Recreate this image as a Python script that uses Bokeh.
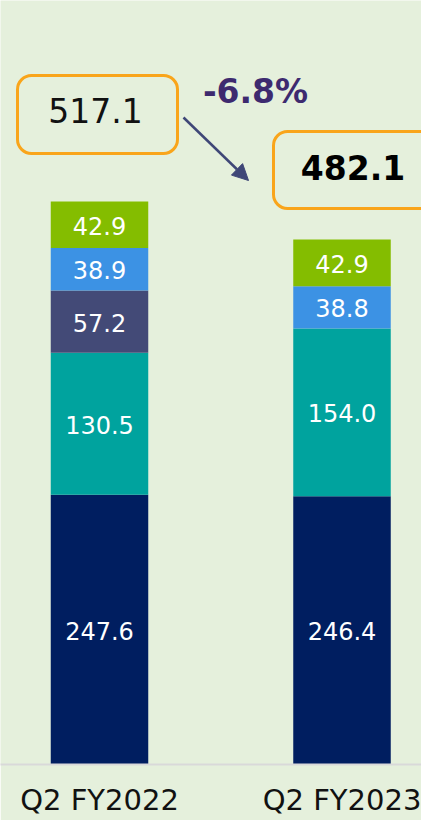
import numpy as np
from bokeh.plotting import figure
from bokeh.models import (Range1d, FixedTicker, ColumnDataSource, BoxAnnotation,
                          Arrow, NormalHead, Label)
from bokeh.core.properties import value
from bokeh.embed import file_html
from bokeh.resources import INLINE

# ---------------- data ----------------
categories = ["Q2 FY2022", "Q2 FY2023"]
seg_a = [247.6, 246.4]
seg_b = [130.5, 154.0]
seg_c = [57.2, 0.0]
seg_d = [38.9, 38.8]
seg_e = [42.9, 42.9]
series_names = ["seg_a", "seg_b", "seg_c", "seg_d", "seg_e"]
series_colors = ["#001e60", "#00a39e", "#434a77", "#3c92e4", "#84bd00"]

# ---------------- layout constants ----------------
BG = "#e5f0dc"
FONT = "DejaVu Sans"
W, H = 421, 820
BOTTOM_BORDER = 56
PX_PER_X = 242.5          # pixels per category step
X0_PX = 99.0              # pixel position of the first category centre
PX_PER_Y = 1.089          # pixels per value unit
BASE_PX = H - BOTTOM_BORDER

def sx(px):   # canvas pixel x -> data x
    return (px - X0_PX) / PX_PER_X

def sy(py):   # canvas pixel y -> data y
    return (BASE_PX - py) / PX_PER_Y

xs = np.arange(len(categories), dtype=float)
data = dict(x=xs, seg_a=seg_a, seg_b=seg_b, seg_c=seg_c, seg_d=seg_d, seg_e=seg_e)
src = ColumnDataSource(data)

p = figure(width=W, height=H, output_backend="svg", toolbar_location=None,
           x_range=Range1d(sx(0), sx(W)), y_range=Range1d(0, sy(0)),
           y_axis_location=None, min_border=0, min_border_bottom=BOTTOM_BORDER)
p.background_fill_color = BG
p.border_fill_color = BG
p.outline_line_color = None
p.grid.visible = False

p.vbar_stack(series_names, x="x", width=97.5 / PX_PER_X, color=series_colors,
             line_color=None, source=src)

# segment labels
stack = np.array([seg_a, seg_b, seg_c, seg_d, seg_e])
cum = np.cumsum(stack, axis=0)
mids = cum - stack / 2
lx, ly, lt = [], [], []
for i in range(stack.shape[0]):
    for j in range(stack.shape[1]):
        if stack[i, j] > 0:
            lx.append(xs[j])
            ly.append(mids[i, j])
            lt.append(f"{stack[i, j]:.1f}")
p.text(x=lx, y=ly, text=lt, text_color="white", text_align="center",
       text_baseline="middle", text_font=value(FONT), text_font_size="24px",
       y_offset=1)

# totals and change
totals = stack.sum(axis=0)
change = (totals[1] - totals[0]) / totals[0] * 100

# total boxes (canvas pixel positions)
box1 = dict(left=17, right=177, top=75, bottom=153)
box2 = dict(left=273, right=440, top=131, bottom=208)
for b in (box1, box2):
    p.add_layout(BoxAnnotation(left=sx(b["left"]), right=sx(b["right"]),
                               top=sy(b["top"]), bottom=sy(b["bottom"]),
                               fill_alpha=0, line_color="#f9a51b", line_alpha=1.0,
                               line_width=3, border_radius=14))

p.add_layout(Label(x=sx(95), y=sy(110), text=f"{totals[0]:.1f}",
                   text_align="center", text_baseline="middle",
                   text_font=FONT, text_font_size="33px", text_color="#111111"))
p.add_layout(Label(x=sx(352.5), y=sy(166.5), text=f"{totals[1]:.1f}",
                   text_align="center", text_baseline="middle", text_font_style="bold",
                   text_font=FONT, text_font_size="33px", text_color="#000000"))
p.add_layout(Label(x=sx(255), y=sy(91), text=f"{change:.1f}%",
                   text_align="center", text_baseline="middle", text_font_style="bold",
                   text_font=FONT, text_font_size="33px", text_color="#3d2a6f"))

p.add_layout(Arrow(end=NormalHead(size=16, fill_color="#3f4777", line_color="#3f4777"),
                   x_start=sx(183), y_start=sy(117), x_end=sx(248), y_end=sy(180),
                   line_color="#3f4777", line_width=2.5))

# x axis
ax = p.xaxis[0]
ax.ticker = FixedTicker(ticks=list(xs))
ax.major_label_overrides = {int(i): c for i, c in zip(xs, categories)}
ax.major_tick_line_color = None
ax.minor_tick_line_color = None
ax.axis_line_color = "#d9d9d9"
ax.axis_line_width = 2
ax.major_label_standoff = 12
ax.major_label_text_font = FONT
ax.major_label_text_font_size = "29px"
ax.major_label_text_color = "#111111"

open("out.html", "w").write(file_html(p, INLINE))
